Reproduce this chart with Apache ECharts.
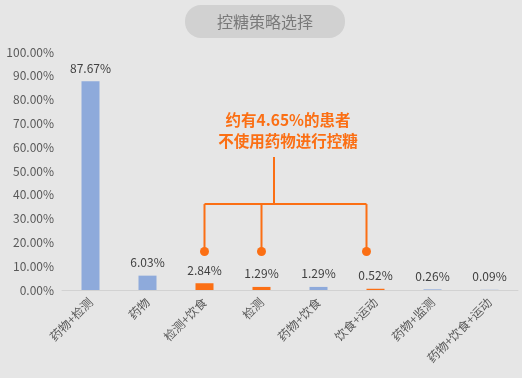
<!DOCTYPE html>
<html>
<head>
<meta charset="utf-8">
<script src="https://cdn.jsdelivr.net/npm/echarts@6/dist/echarts.min.js"></script>
<style>
    html, body { margin: 0; padding: 0; background: #e6e6e6; }
    #chart { width: 522px; height: 378px; }
</style>
</head>
<body>
<div id="chart"></div>
<script>
    var categories = ['药物+检测', '药物', '检测+饮食', '检测', '药物+饮食', '饮食+运动', '药物+监测', '药物+饮食+运动'];
    var values = [87.67, 6.03, 2.84, 1.29, 1.29, 0.52, 0.26, 0.09];
    var noDrug = ['检测+饮食', '检测', '饮食+运动']; // 橙色高亮
    var note = ['约有4.65%的患者', '不使用药物进行控糖'];

    var blue = '#8eaadb';
    var orange = '#fb6f14';
    var font = '"Noto Sans CJK SC", sans-serif';

    var myChart = echarts.init(document.getElementById('chart'));
    var option = {
        backgroundColor: '#e6e6e6',
        textStyle: {fontFamily: font},
        grid: {left: 62, right: 4, top: 52, bottom: 88},
        xAxis: {
            type: 'category',
            data: categories,
            axisTick: {show: false},
            axisLine: {lineStyle: {color: '#d2d2d2'}},
            axisLabel: {rotate: 45, color: '#595959', fontSize: 12, margin: 10, interval: 0}
        },
        yAxis: {
            type: 'value',
            min: 0, max: 100, interval: 10,
            splitLine: {show: false},
            axisLine: {show: false},
            axisLabel: {
                color: '#595959', fontSize: 12, margin: 8,
                formatter: function (v) { return v.toFixed(2) + '%'; }
            }
        },
        series: [{
            type: 'bar',
            barWidth: 18,
            data: values.map(function (v, i) {
                return {
                    value: v,
                    itemStyle: {color: noDrug.indexOf(categories[i]) >= 0 ? orange : blue}
                };
            }),
            label: {
                show: true, position: 'top', distance: 7,
                color: '#404040', fontSize: 12,
                formatter: function (p) { return p.value.toFixed(2) + '%'; }
            }
        }]
    };
    myChart.setOption(option);

    // 标题与注释连线
    function px(cat, val) { return myChart.convertToPixel({gridIndex: 0}, [cat, val]); }
    var hubX = 274;
    var yTop = px(categories[0], 55.9)[1];
    var yBar = px(categories[0], 36.1)[1];
    var yDot = px(categories[0], 16.2)[1];
    var xs = noDrug.map(function (c) { return px(c, 0)[0]; });
    xs[2] -= 9; // 原图右侧圆点略偏左
    var els = [
        {
            type: 'rect', shape: {x: 185, y: 5, width: 160, height: 33, r: 16},
            style: {fill: '#d1d1d1'}
        },
        {
            type: 'text', x: 265, y: 22,
            style: {text: '控糖策略选择', fill: '#7a7a7a', font: '16px ' + font, align: 'center', verticalAlign: 'middle'}
        },
        {
            type: 'text', x: hubX + 14, y: 131,
            style: {text: note.join('\n'), fill: orange, font: 'bold 15.5px ' + font, align: 'center', verticalAlign: 'middle', lineHeight: 21}
        },
        {
            type: 'polyline', shape: {points: [[hubX, yTop], [hubX, yBar]]},
            style: {stroke: orange, lineWidth: 2, fill: null}
        },
        {
            type: 'polyline', shape: {points: [[xs[0], yBar], [xs[2], yBar]]},
            style: {stroke: orange, lineWidth: 2, fill: null}
        }
    ];
    xs.forEach(function (x) {
        els.push({
            type: 'polyline', shape: {points: [[x, yBar], [x, yDot]]},
            style: {stroke: orange, lineWidth: 2, fill: null}
        });
        els.push({type: 'circle', shape: {cx: x, cy: yDot, r: 4.5}, style: {fill: orange}});
    });
    myChart.setOption({graphic: els});
</script>
</body>
</html>
